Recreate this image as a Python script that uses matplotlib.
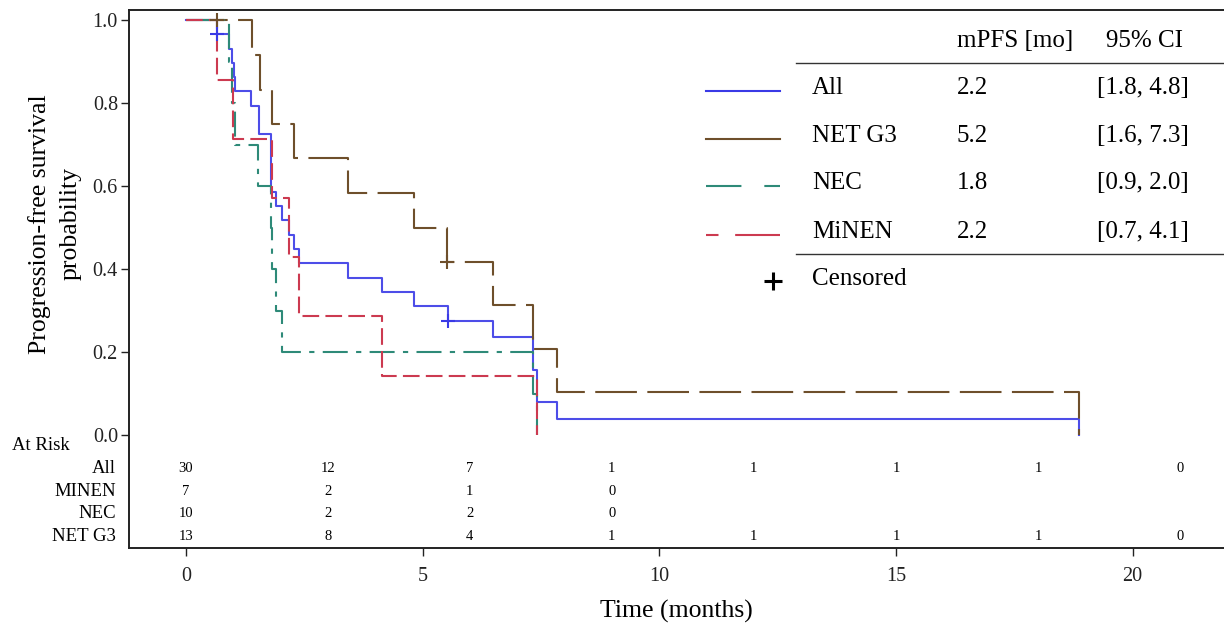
import matplotlib
matplotlib.use("Agg")
import matplotlib.pyplot as plt
from matplotlib.lines import Line2D

plt.rcParams['font.family'] = ['Liberation Serif', 'DejaVu Serif']

# ---------------- data ----------------
all_t = [0, 0.65, 0.91, 0.97, 1.02, 1.04, 1.37, 1.55, 1.81, 1.90, 2.04, 2.18, 2.28, 2.40,
         3.43, 4.15, 4.81, 5.53, 6.49, 7.33, 7.41, 7.84, 18.87]
all_s = [1.0, 0.967, 0.932, 0.898, 0.863, 0.829, 0.794, 0.725, 0.587, 0.552, 0.518, 0.483,
         0.449, 0.414, 0.380, 0.345, 0.311, 0.276, 0.236, 0.158, 0.079, 0.039, 0.0]
all_cens_t = [0.65, 5.53]
all_cens_s = [0.967, 0.276]

net_t = [0, 1.39, 1.57, 1.83, 2.28, 3.43, 4.81, 5.52, 6.49, 7.33, 7.84, 18.87]
net_s = [1.0, 0.917, 0.833, 0.750, 0.667, 0.583, 0.500, 0.417, 0.313, 0.208, 0.104, 0.0]
net_cens_t = [0.65, 5.52]
net_cens_s = [1.0, 0.417]

nec_t = [0, 0.91, 0.97, 1.04, 1.52, 1.81, 1.83, 1.90, 2.04, 7.33, 7.41]
nec_s = [1.0, 0.9, 0.8, 0.7, 0.6, 0.5, 0.4, 0.3, 0.2, 0.1, 0.0]

minen_t = [0, 0.65, 1.00, 1.83, 2.18, 2.40, 4.15, 7.41]
minen_s = [1.0, 0.857, 0.714, 0.571, 0.429, 0.286, 0.143, 0.0]

risk_times = [0, 3, 6, 9, 12, 15, 18, 21]
risk_labels = ["All", "MINEN", "NEC", "NET G3"]
risk_all = [30, 12, 7, 1, 1, 1, 1, 0]
risk_minen = [7, 2, 1, 0]
risk_nec = [10, 2, 2, 0]
risk_net = [13, 8, 4, 1, 1, 1, 1, 0]

legend_names = ["All", "NET G3", "NEC", "MiNEN"]
legend_mpfs = ["2.2", "5.2", "1.8", "2.2"]
legend_ci = ["[1.8, 4.8]", "[1.6, 7.3]", "[0.9, 2.0]", "[0.7, 4.1]"]

# ---------------- styles ----------------
C_ALL = "#3a3ae6"
C_NET = "#6e4f2b"
C_NEC = "#2e8a78"
C_MIN = "#cc3a50"
LW = 1.5
LS_ALL = '-'
LS_NET = (0, (20, 5))
LS_NEC = (0, (12, 4, 2.5, 4))
LS_MIN = (0, (8, 3))

W, H = 1224, 624
fig = plt.figure(figsize=(W / 100, H / 100), dpi=100)
ax_l, ax_r, ax_t, ax_b = 129, 1224, 10, 547.5
ax = fig.add_axes([ax_l / W, 1 - ax_b / H, (ax_r - ax_l) / W, (ax_b - ax_t) / H])

ax.step(all_t, all_s, where='post', color=C_ALL, lw=LW, ls=LS_ALL, alpha=0.9, zorder=3)
ax.step(net_t, net_s, where='post', color=C_NET, lw=LW, ls=LS_NET, zorder=3)
ax.step(nec_t, nec_s, where='post', color=C_NEC, lw=LW, ls=LS_NEC, zorder=3)
ax.step(minen_t, minen_s, where='post', color=C_MIN, lw=LW, ls=LS_MIN, zorder=3)

ax.plot(all_cens_t, all_cens_s, ls='none', marker='+', ms=10, mew=1.5, color=C_ALL, zorder=4)
ax.plot(net_cens_t, net_cens_s, ls='none', marker='+', ms=10, mew=1.5, color=C_NET, zorder=4)

ax.set_xlim(-1.2, 21.93)
ax.set_ylim(-0.271, 1.025)
ax.set_xticks([0, 5, 10, 15, 20])
ax.set_yticks([0.0, 0.2, 0.4, 0.6, 0.8, 1.0])
ax.set_yticklabels([f"{v:.1f}" for v in [0.0, 0.2, 0.4, 0.6, 0.8, 1.0]])
ax.tick_params(axis='both', direction='out', length=6, width=1.0, labelsize=14.5, colors='#222222')
ax.tick_params(axis='x', pad=8)
ax.tick_params(axis='y', pad=2)

for s in ['left', 'bottom', 'top']:
    ax.spines[s].set_linewidth(1.4)
    ax.spines[s].set_color('#222222')
ax.spines['right'].set_visible(False)

ax.set_xlabel("Time (months)", fontsize=18.5, labelpad=10)
ax.set_ylabel("Progression-free survival\nprobability", fontsize=18.5, linespacing=1.5)
ax.yaxis.set_label_coords((82 - ax_l) / (ax_r - ax_l), (ax_b - 224) / (ax_b - ax_t))

# ---------------- at-risk table ----------------
def data_y(py):
    return (435 - py) / 414.5

ax.text(-3.68, data_y(445), "At Risk", ha='left', va='center', fontsize=13.5, clip_on=False)
row_py = [468, 491, 513, 536]
rows = [risk_all, risk_minen, risk_nec, risk_net]
for lab, py, vals in zip(risk_labels, row_py, rows):
    ax.text(-1.47, data_y(py), lab, ha='right', va='center', fontsize=13.5, clip_on=False)
    for t, v in zip(risk_times, vals):
        ax.text(t, data_y(py), str(v), ha='center', va='center', fontsize=10.5)

# ---------------- legend table ----------------
def fx(px):
    return px / W

def fy(py):
    return 1 - py / H

fs_leg = 18
fig.text(fx(957), fy(41), "mPFS [mo]", fontsize=fs_leg, ha='left', va='center')
fig.text(fx(1106), fy(41), "95% CI", fontsize=fs_leg, ha='left', va='center')
fig.add_artist(Line2D([fx(796), fx(1224)], [fy(62.5), fy(62.5)], color='#333333', lw=1.0))
fig.add_artist(Line2D([fx(796), fx(1224)], [fy(253.5), fy(253.5)], color='#333333', lw=1.0))

leg_py = [88, 136, 183, 232]
leg_colors = [C_ALL, C_NET, C_NEC, C_MIN]
leg_ls = ['-', '-', (0, (17, 11, 8, 3)), (0, (6, 8, 30, 3))]
for name, m, ci, py, c, ls in zip(legend_names, legend_mpfs, legend_ci, leg_py, leg_colors, leg_ls):
    fig.add_artist(Line2D([fx(706), fx(780)], [fy(py + 3), fy(py + 3)], color=c, lw=LW, ls=ls))
    fig.text(fx(812), fy(py), name, fontsize=fs_leg, ha='left', va='center')
    fig.text(fx(957), fy(py), m, fontsize=fs_leg, ha='left', va='center')
    fig.text(fx(1097), fy(py), ci, fontsize=fs_leg, ha='left', va='center')

fig.add_artist(Line2D([fx(773)], [fy(281)], ls='none', marker='+', ms=13, mew=2.2, color='black'))
fig.text(fx(812), fy(279), "Censored", fontsize=fs_leg, ha='left', va='center')

fig.savefig("out.png", dpi=100)
